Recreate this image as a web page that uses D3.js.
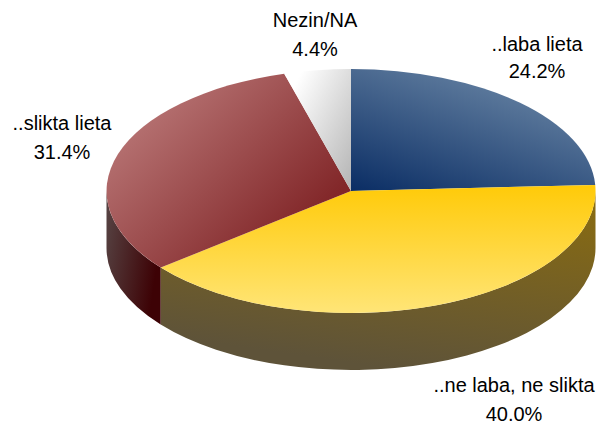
<!DOCTYPE html>
<html><head><meta charset="utf-8">
<script src="https://cdn.jsdelivr.net/npm/d3@7"></script>
<style>html,body{margin:0;padding:0;background:#fff}svg{display:block}</style>
</head><body>
<script>
const categories = ["..laba lieta", "..ne laba, ne slikta", "..slikta lieta", "Nezin/NA"];
const values = [24.2, 40.0, 31.4, 4.4];

const W = 615, H = 423, cx = 351, cy = 191, rx = 244.5, ry = 122, depth = 57;
const topGrad = [
  {x1:0,y1:1,x2:.62,y2:.12,c1:"#0a2d64",c2:"#5f7c9e"},
  {x1:.5,y1:0,x2:.5,y2:1,c1:"#ffca08",c2:"#ffe577"},
  {x1:.86,y1:.72,x2:.18,y2:.16,c1:"#822729",c2:"#b67272"},
  {x1:1,y1:1,x2:.1,y2:.2,c1:"#b4b4b4",c2:"#ffffff"}
];
const sideGrad = [
  {x1:1,y1:0,x2:1,y2:1,c1:"#3a4a66",c2:"#3a4a66"},
  {x1:.9,y1:0,x2:.55,y2:1,c1:"#8a6c10",c2:"#5e5339"},
  {x1:0,y1:0,x2:1,y2:.35,c1:"#574545",c2:"#3d0205"},
  {x1:0,y1:0,x2:1,y2:0,c1:"#777",c2:"#777"}
];
const labelPos = [
  {x:537,y:[51,78]},
  {x:514,y:[392,421]},
  {x:62,y:[130,159]},
  {x:315,y:[27,56]}
];

const svg = d3.select("body").append("svg").attr("width",W).attr("height",H);
const defs = svg.append("defs");
function addGrad(id,g){
  const lg = defs.append("linearGradient").attr("id",id)
    .attr("x1",g.x1).attr("y1",g.y1).attr("x2",g.x2).attr("y2",g.y2);
  lg.append("stop").attr("offset",0).attr("stop-color",g.c1);
  lg.append("stop").attr("offset",1).attr("stop-color",g.c2);
}
topGrad.forEach((g,i)=>addGrad("t"+i,g));
sideGrad.forEach((g,i)=>addGrad("s"+i,g));

const pie = d3.pie().sort(null).value(d=>d);
const arcs = pie(values);
const xS = d3.scaleLinear().domain([-1,1]).range([cx-rx,cx+rx]);
const yS = d3.scaleLinear().domain([-1,1]).range([cy-ry,cy+ry]);

// side walls: visible part of the rim is the front half of the ellipse
function wall(a0,a1){
  const s = Math.max(a0,Math.PI/2), e = Math.min(a1,Math.PI*1.5);
  if (e<=s) return null;
  const px = a=>xS(Math.sin(a)), py = a=>yS(-Math.cos(a));
  return `M${px(s)},${py(s)}A${rx},${ry} 0 0 1 ${px(e)},${py(e)}`+
         `L${px(e)},${py(e)+depth}A${rx},${ry} 0 0 0 ${px(s)},${py(s)+depth}Z`;
}
svg.append("g").selectAll("path").data(arcs).join("path")
  .attr("d",d=>wall(d.startAngle,d.endAngle))
  .attr("fill",(d,i)=>`url(#s${i})`);

// top surface
const arc = d3.arc().innerRadius(0).outerRadius(1);
svg.append("g").attr("transform",`translate(${cx},${cy}) scale(${rx},${ry})`)
  .selectAll("path").data(arcs).join("path")
  .attr("d",arc)
  .attr("fill",(d,i)=>`url(#t${i})`);

// labels
const fmt = d3.format(".1f");
const lab = svg.append("g").attr("font-family","'Liberation Sans',Arial,sans-serif")
  .attr("font-size",20).attr("fill","#000").attr("text-anchor","middle");
categories.forEach((c,i)=>{
  lab.append("text").attr("x",labelPos[i].x).attr("y",labelPos[i].y[0]).text(c);
  lab.append("text").attr("x",labelPos[i].x).attr("y",labelPos[i].y[1]).text(fmt(values[i])+"%");
});
</script>
</body></html>
